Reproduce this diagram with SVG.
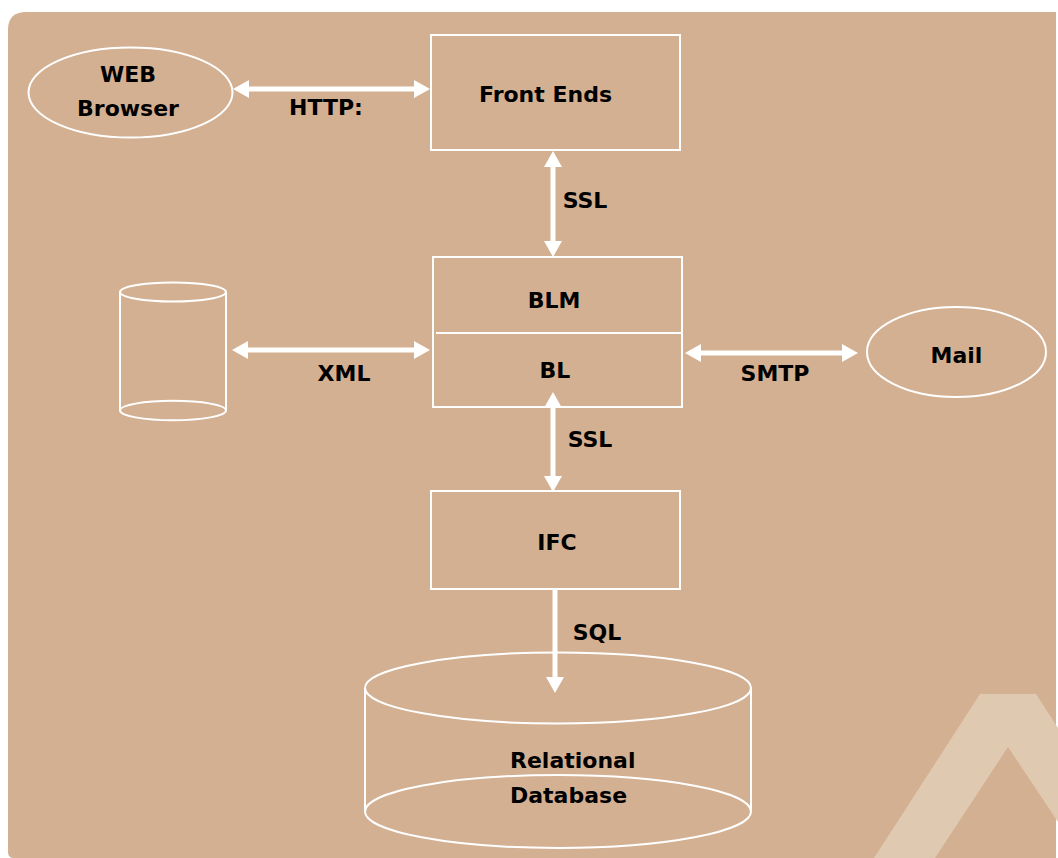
<svg xmlns="http://www.w3.org/2000/svg" width="1058" height="858" viewBox="0 0 1058 858">
  <defs>
    <marker id="ah" viewBox="0 0 16 18" refX="2" refY="9" markerWidth="16" markerHeight="18" markerUnits="userSpaceOnUse" orient="auto-start-reverse">
      <path d="M0,0 L16,9 L0,18 z" fill="#ffffff"/>
    </marker>
    <style>
      .shape { fill: none; stroke: #ffffff; stroke-width: 2; }
      .lbl { font-family: "DejaVu Sans", Verdana, sans-serif; font-weight: bold; font-size: 22px; fill: #000000; }
      .conn { stroke: #ffffff; stroke-width: 5; fill: none; }
    </style>
  </defs>
  <rect width="1058" height="858" fill="#ffffff"/>
  <path d="M8,30 Q8,12 26,12 L1056,12 L1056,858 L14,858 Q8,858 8,852 Z" fill="#d4b092"/>
  <polygon points="874,858 980,694 1036,694 1058,728 1058,822 1008,747 935,858" fill="#e0c9b1"/>

  <g id="connectors">
    <line class="conn" x1="247" y1="89" x2="416" y2="89" marker-start="url(#ah)" marker-end="url(#ah)"/>
    <text class="lbl" x="326" y="115" text-anchor="middle">HTTP:</text>
    <line class="conn" x1="553" y1="165" x2="553" y2="243" marker-start="url(#ah)" marker-end="url(#ah)"/>
    <text class="lbl" x="585" y="208" text-anchor="middle">SSL</text>
    <line class="conn" x1="246" y1="350" x2="416" y2="350" marker-start="url(#ah)" marker-end="url(#ah)"/>
    <text class="lbl" x="344" y="381" text-anchor="middle">XML</text>
    <line class="conn" x1="699" y1="353" x2="844" y2="353" marker-start="url(#ah)" marker-end="url(#ah)"/>
    <text class="lbl" x="775" y="381" text-anchor="middle">SMTP</text>
    <line class="conn" x1="553" y1="406" x2="553" y2="478" marker-start="url(#ah)" marker-end="url(#ah)"/>
    <text class="lbl" x="590" y="447" text-anchor="middle">SSL</text>
    <line class="conn" x1="555" y1="589" x2="555" y2="679" marker-end="url(#ah)"/>
    <text class="lbl" x="597" y="640" text-anchor="middle">SQL</text>
  </g>

  <g id="web-browser">
    <ellipse class="shape" cx="130.5" cy="92.5" rx="102" ry="45"/>
    <text class="lbl" x="128" y="82" text-anchor="middle">WEB</text>
    <text class="lbl" x="128" y="116" text-anchor="middle">Browser</text>
  </g>

  <g id="front-ends">
    <rect class="shape" x="431" y="35" width="249" height="115"/>
    <text class="lbl" x="545.5" y="102" text-anchor="middle">Front Ends</text>
  </g>

  <g id="blm-bl">
    <rect class="shape" x="433" y="257" width="249" height="150"/>
    <line class="shape" x1="436" y1="333" x2="682" y2="333"/>
    <text class="lbl" x="554" y="308" text-anchor="middle">BLM</text>
    <text class="lbl" x="555" y="378" text-anchor="middle">BL</text>
  </g>

  <g id="xml-store">
    <path class="shape" d="M120,292 L120,410.5 M226,292 L226,410.5"/>
    <ellipse class="shape" cx="173" cy="292" rx="53" ry="9.5"/>
    <ellipse class="shape" cx="173" cy="410.5" rx="53" ry="9.7"/>
  </g>

  <g id="mail">
    <ellipse class="shape" cx="956.5" cy="352" rx="89.5" ry="45"/>
    <text class="lbl" x="956.5" y="363" text-anchor="middle">Mail</text>
  </g>

  <g id="ifc">
    <rect class="shape" x="431" y="491" width="249" height="98"/>
    <text class="lbl" x="557" y="550" text-anchor="middle">IFC</text>
  </g>

  <g id="relational-database">
    <path class="shape" d="M365,688 L365,811.5 M751,688 L751,811.5"/>
    <ellipse class="shape" cx="558" cy="688" rx="193" ry="35.5"/>
    <ellipse class="shape" cx="558" cy="811.5" rx="193" ry="36.5"/>
    <text class="lbl" x="510" y="768">Relational</text>
    <text class="lbl" x="510" y="803">Database</text>
  </g>
</svg>
